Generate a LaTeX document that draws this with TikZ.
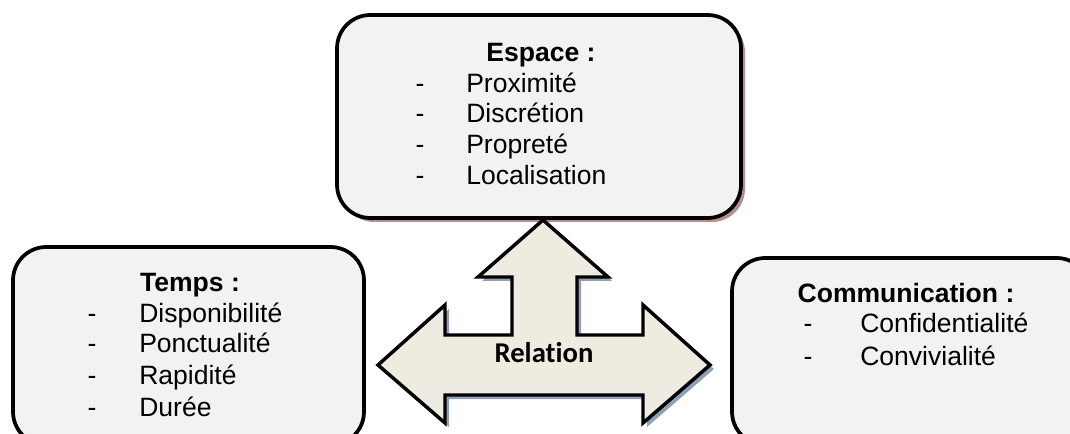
\documentclass[tikz,border=0pt]{standalone}
\usepackage{fontspec}
\setmainfont{Liberation Sans}
\newfontfamily\calibri[Ligatures=NoCommon]{Carlito}
\definecolor{boxfill}{HTML}{F2F2F2}
\definecolor{arrowfill}{HTML}{EEECE1}
\definecolor{rosyshadow}{HTML}{B88C8C}
\definecolor{blueshadow}{HTML}{8E9FB6}
\tikzset{
  boxshape/.style={draw=black, line width=2.8pt, fill=boxfill, rounded corners=25pt},
  boxshadow/.style={fill=rosyshadow, draw=none, rounded corners=25pt},
  txt/.style={inner sep=0pt, anchor=base, font=\fontsize{19.9}{23}\selectfont},
  headtxt/.style={txt, font=\fontsize{19.9}{23}\selectfont\bfseries},
  itemtxt/.style={txt, anchor=base west},
}
\begin{document}
\begin{tikzpicture}[x=0.75pt,y=-0.75pt]
\useasboundingbox (0,0) rectangle (1070,434);
\begin{scope}
\clip (0,0) rectangle (1070,434);
% top box
\fill[boxshadow] (341,19) rectangle (745,222);
\draw[boxshape] (337,15) rectangle (741,218);
% left box
\draw[boxshape] (13,247) rectangle (364,445);
% right box
\draw[boxshape] (732,258) rectangle (1090,445);
% arrow shadow
\fill[blueshadow, shift={(4,4)}] (543,220) -- (608,277) -- (577,277) -- (577,335) -- (643,335) -- (643,305) -- (710,365) -- (643,423) -- (643,395) -- (445,395) -- (445,423) -- (378,365) -- (445,305) -- (445,335) -- (512,335) -- (512,277) -- (478,277) -- cycle;
% arrow
\draw[fill=arrowfill, line width=2.6pt, line join=miter] (543,220) -- (608,277) -- (577,277) -- (577,335) -- (643,335) -- (643,305) -- (710,365) -- (643,423) -- (643,395) -- (445,395) -- (445,423) -- (378,365) -- (445,305) -- (445,335) -- (512,335) -- (512,277) -- (478,277) -- cycle;
\end{scope}
\node[txt, font=\fontsize{21.5}{25}\calibri\bfseries] (rel) at (544,363) {Relation};
% Espace
\node[headtxt] (esp) at (541,62) {Espace :};
\node[txt] (e1d) at (420,93) {-};
\node[itemtxt] (e1) at (466,93) {Proximité};
\node[txt] (e2d) at (420,123) {-};
\node[itemtxt] (e2) at (466,123) {Discrétion};
\node[txt] (e3d) at (420,154) {-};
\node[itemtxt] (e3) at (466,154) {Propreté};
\node[txt] (e4d) at (420,185) {-};
\node[itemtxt] (e4) at (466,185) {Localisation};
% Temps
\node[headtxt] (tmp) at (190,292) {Temps :};
\node[txt] (t1d) at (92,323) {-};
\node[itemtxt] (t1) at (139,323) {Disponibilité};
\node[txt] (t2d) at (92,353) {-};
\node[itemtxt] (t2) at (139,353) {Ponctualité};
\node[txt] (t3d) at (92,384) {-};
\node[itemtxt] (t3) at (139,384) {Rapidité};
\node[txt] (t4d) at (92,416) {-};
\node[itemtxt] (t4) at (139,416) {Durée};
% Communication
\node[headtxt] (com) at (906,303) {Communication :};
\node[txt] (c1d) at (808,333) {-};
\node[itemtxt] (c1) at (860,333) {Confidentialité};
\node[txt] (c2d) at (808,365) {-};
\node[itemtxt] (c2) at (860,365) {Convivialité};
\end{tikzpicture}
\end{document}
